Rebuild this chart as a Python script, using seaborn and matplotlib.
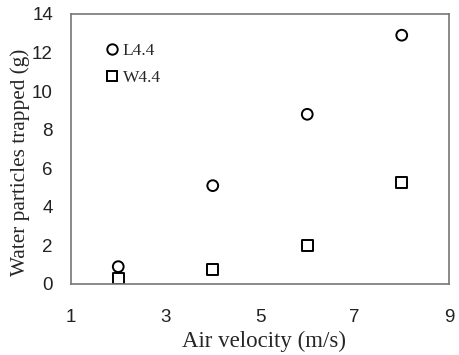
import matplotlib
matplotlib.use("Agg")
import matplotlib.pyplot as plt
import seaborn as sns
import pandas as pd

velocity = [2, 4, 6, 8]
l44 = [0.9, 5.1, 8.8, 12.9]
w44 = [0.3, 0.75, 2.0, 5.25]
series_names = ["L4.4", "W4.4"]

df = pd.concat([
    pd.DataFrame({"v": velocity, "y": l44, "s": series_names[0]}),
    pd.DataFrame({"v": velocity, "y": w44, "s": series_names[1]}),
])

sns.set_style("white")
plt.rcParams['font.family'] = ['Liberation Sans', 'DejaVu Sans']

fig = plt.figure(figsize=(4.6, 3.55), dpi=100)
ax = fig.add_axes([71/460, 1-284/355, 378/460, 270/355])

sns.scatterplot(data=df, x="v", y="y", style="s", markers={"L4.4": "o", "W4.4": "s"},
                ax=ax, s=60, facecolor="white", edgecolor="black", linewidth=1.4,
                color="white", legend=True)
for c in ax.collections:
    c.set_facecolor("white")
    c.set_edgecolor("black")

ax.set_xlim(1, 9)
ax.set_ylim(0, 14)
ax.set_xticks([1, 3, 5, 7, 9])
ax.set_yticks(range(0, 15, 2))
ax.tick_params(direction="in", length=4, width=0.8, color="#aaaaaa", labelsize=13.5,
               labelcolor="#222222")
ax.tick_params(axis="y", pad=13)
ax.tick_params(axis="x", pad=18)
for sp in ax.spines.values():
    sp.set_color("#777777")
    sp.set_linewidth(1.2)

ax.set_xlabel("Air velocity (m/s)", fontfamily="Liberation Serif", fontsize=16.5, labelpad=0)
ax.set_ylabel("Water particles trapped (g)", fontfamily="Liberation Serif", fontsize=15.3, labelpad=0)
ax.xaxis.set_label_coords(264/460, 1-331/355, transform=fig.transFigure)
ax.yaxis.set_label_coords(30/460, 1-162/355, transform=fig.transFigure)

h, l = ax.get_legend_handles_labels()
for hh in h:
    hh.set_markerfacecolor("white")
    hh.set_markeredgecolor("black")
    hh.set_markeredgewidth(1.4)
    hh.set_markersize(7.5)
leg = ax.legend(h, l, loc="upper left", bbox_to_anchor=(0.054, 0.95), frameon=False,
                prop={"family": "Liberation Serif", "size": 12.5}, handlelength=0.6,
                handletextpad=0.3, labelspacing=0.6)

fig.savefig("out.png", dpi=100)
